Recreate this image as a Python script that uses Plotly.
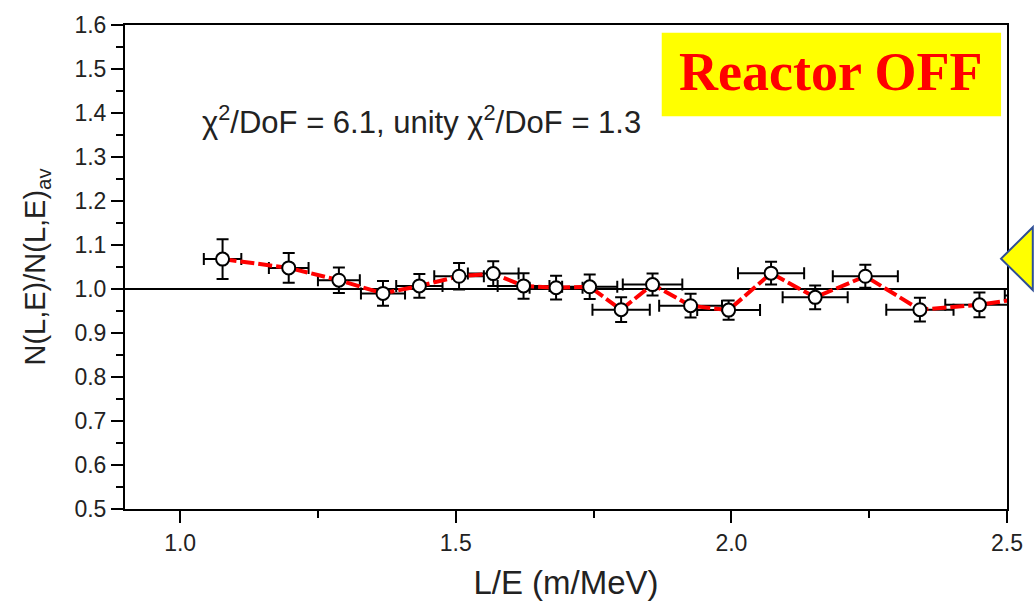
import plotly.graph_objects as go

# L/E bins and normalised event ratio, reactor OFF
le = [1.077, 1.197, 1.288, 1.368, 1.434, 1.506, 1.568, 1.623, 1.682, 1.743,
      1.800, 1.857, 1.926, 1.995, 2.072, 2.152, 2.243, 2.342, 2.450, 2.560]
ratio = [1.068, 1.048, 1.020, 0.990, 1.007, 1.029, 1.035, 1.007, 1.003, 1.005,
         0.953, 1.010, 0.962, 0.952, 1.036, 0.981, 1.029, 0.953, 0.964, 0.985]
ratio_err = [0.045, 0.034, 0.029, 0.028, 0.027, 0.030, 0.028, 0.029, 0.027, 0.028,
             0.028, 0.025, 0.027, 0.022, 0.026, 0.027, 0.026, 0.027, 0.028, 0.028]
le_err = [0.034, 0.036, 0.038, 0.040, 0.042, 0.045, 0.046, 0.047, 0.048, 0.050,
          0.052, 0.054, 0.057, 0.057, 0.060, 0.059, 0.059, 0.061, 0.062, 0.064]

x_ticks = [1.0, 1.5, 2.0, 2.5]
y_ticks = [0.5, 0.6, 0.7, 0.8, 0.9, 1.0, 1.1, 1.2, 1.3, 1.4, 1.5, 1.6]

W, H = 1035, 607
ML, MR, MT, MB = 125, 21, 19, 95
PW, PH = W - ML - MR, H - MT - MB


def px(xp):
    return (xp - ML) / PW


def py(yp):
    return (H - MB - yp) / PH


fig = go.Figure()

fig.add_trace(go.Scatter(
    x=le, y=ratio,
    mode="lines+markers",
    line=dict(color="#ff0000", width=4, dash="14px,4px"),
    marker=dict(symbol="circle", size=13, color="white",
                line=dict(color="black", width=2)),
    error_y=dict(type="data", array=ratio_err, color="black",
                 thickness=2, width=6),
    error_x=dict(type="data", array=le_err, color="black",
                 thickness=2, width=6),
    showlegend=False,
))

# unity reference line
fig.add_shape(type="line", xref="paper", yref="y", x0=0, x1=1, y0=1.0, y1=1.0,
              line=dict(color="black", width=2), layer="below")

# label box
fig.add_shape(type="rect", xref="paper", yref="paper",
              x0=px(666), x1=px(1008), y0=py(112), y1=py(27),
              fillcolor="#ffff00", line=dict(width=0), layer="above")
fig.add_annotation(xref="paper", yref="paper", x=px(836), y=py(67),
                   text="<b>Reactor OFF</b>", showarrow=False,
                   xanchor="center", yanchor="middle",
                   font=dict(family="Liberation Serif", size=54, color="#ff0000"))

fig.add_annotation(xref="paper", yref="paper", x=px(424), y=py(116),
                   text="χ<sup>2</sup>/DoF = 6.1, unity χ<sup>2</sup>/DoF = 1.3",
                   showarrow=False, xanchor="center", yanchor="middle",
                   font=dict(family="Liberation Sans", size=31, color="#222222"))

# arrow head pointing at the plot from the right
fig.add_shape(type="path", xref="paper", yref="paper",
              path=f"M {px(1008)},{py(257)} L {px(1040)},{py(225)} "
                   f"L {px(1040)},{py(289)} Z",
              fillcolor="#ffff00", line=dict(color="#2f4f96", width=2),
              layer="above")

axis_font = dict(family="Liberation Sans", size=23, color="#222222")

fig.update_xaxes(
    range=[0.9, 2.5], tickvals=x_ticks, ticktext=[f"{v:.1f}" for v in x_ticks],
    ticks="outside", ticklen=12, tickwidth=2, tickcolor="black",
    minor=dict(dtick=0.25, tick0=1.0, ticks="outside", ticklen=7,
               tickwidth=2, tickcolor="black"),
    showline=True, linecolor="black", linewidth=2, mirror=True,
    showgrid=False, zeroline=False, tickfont=axis_font,
    title=dict(text="L/E (m/MeV)", standoff=16,
               font=dict(family="Liberation Sans", size=33, color="#222222")),
)
fig.update_yaxes(
    range=[0.5, 1.6], tickvals=y_ticks, ticktext=[f"{v:.1f}" for v in y_ticks],
    ticks="outside", ticklen=12, tickwidth=2, tickcolor="black",
    minor=dict(dtick=0.05, tick0=0.5, ticks="outside", ticklen=7,
               tickwidth=2, tickcolor="black"),
    showline=True, linecolor="black", linewidth=2, mirror=True,
    showgrid=False, zeroline=False, tickfont=axis_font,
    title=dict(text="N(L,E)/N(L,E)<sub>av</sub>", standoff=20,
               font=dict(family="Liberation Sans", size=29, color="#222222")),
)

fig.update_layout(
    width=W, height=H,
    margin=dict(l=ML, r=MR, t=MT, b=MB),
    paper_bgcolor="white", plot_bgcolor="white",
)

fig.write_html("out.html")
